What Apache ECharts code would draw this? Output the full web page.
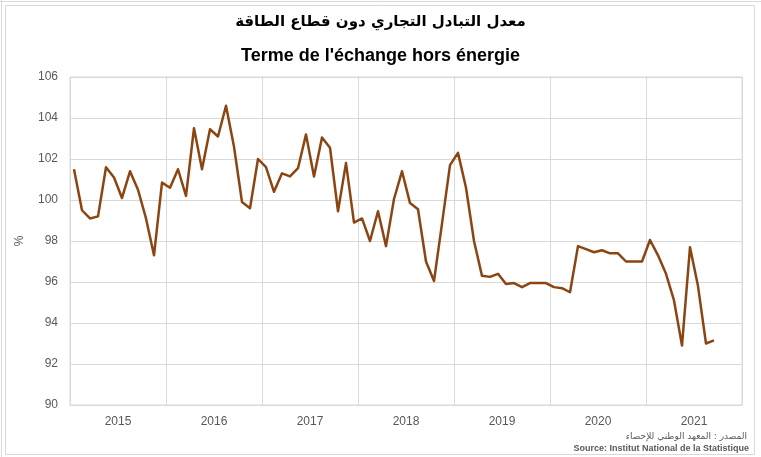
<!DOCTYPE html>
<html>
<head>
<meta charset="utf-8">
<script src="https://cdn.jsdelivr.net/npm/echarts@6/dist/echarts.min.js"></script>
<style>
html,body{margin:0;padding:0;background:#fff;}
#chart{width:761px;height:457px;}
</style>
</head>
<body>
<div id="chart"></div>
<script>
var titleAr = 'معدل التبادل التجاري دون قطاع الطاقة';
var titleFr = "Terme de l'échange hors énergie";
var sourceAr = 'المصدر : المعهد الوطني للإحصاء';
var sourceFr = 'Source: Institut National de la Statistique';
var years = ['2015', '2016', '2017', '2018', '2019', '2020', '2021'];
var monthsPerYear = ['01','02','03','04','05','06','07','08','09','10','11','12'];
var yTicks = { min: 90, max: 106, step: 2 };
var values2015 = [101.5, 99.5, 99.1, 99.2, 101.6, 101.1, 100.1, 101.4, 100.5, 99.1, 97.3, 100.85];
var values2016 = [100.6, 101.5, 100.2, 103.5, 101.5, 103.45, 103.1, 104.6, 102.6, 99.9, 99.6, 102.0];
var values2017 = [101.6, 100.4, 101.3, 101.15, 101.55, 103.2, 101.15, 103.05, 102.55, 99.45, 101.8, 98.9];
var values2018 = [99.1, 98.0, 99.45, 97.75, 100.05, 101.4, 99.85, 99.55, 97.0, 96.05, 98.85, 101.7];
var values2019 = [102.3, 100.6, 98.0, 96.3, 96.25, 96.4, 95.9, 95.95, 95.75, 95.95, 95.95, 95.95];
var values2020 = [95.75, 95.7, 95.5, 97.75, 97.6, 97.45, 97.55, 97.4, 97.4, 97.0, 97.0, 97.0];
var values2021 = [98.05, 97.3, 96.4, 95.1, 92.9, 97.7, 95.8, 93.0, 93.15];

var months = [];
years.forEach(function (y) { monthsPerYear.forEach(function (m) { months.push(y + '-' + m); }); });
var values = [].concat(values2015, values2016, values2017, values2018, values2019, values2020, values2021);

var chart = echarts.init(document.getElementById('chart'), null, { renderer: 'canvas' });
var gridColor = '#d9d9d9';
var labelColor = '#595959';
chart.setOption({
  animation: false,
  backgroundColor: '#ffffff',
  title: [
    { text: titleAr, left: 'center', top: 10,
      textStyle: { fontFamily: 'DejaVu Sans', fontWeight: 'bold', fontSize: 15, color: '#000' } },
    { text: titleFr, left: 'center', top: 42,
      textStyle: { fontFamily: 'Arial, Liberation Sans, sans-serif', fontWeight: 'bold', fontSize: 18, color: '#000' } }
  ],
  graphic: [
    { type: 'rect', shape: { x: 5.5, y: 5.5, width: 749, height: 449 }, style: { fill: 'none', stroke: gridColor, lineWidth: 1 }, silent: true },
    { type: 'line', shape: { x1: 1.5, y1: 0, x2: 1.5, y2: 457 }, style: { stroke: gridColor, lineWidth: 1 }, silent: true },
    { type: 'line', shape: { x1: 0, y1: 1.5, x2: 761, y2: 1.5 }, style: { stroke: gridColor, lineWidth: 1 }, silent: true },
    { type: 'text', right: 14, top: 432, style: { text: sourceAr, fontSize: 9, fill: labelColor, fontFamily: 'DejaVu Sans', align: 'right' } },
    { type: 'text', right: 12, top: 444, style: { text: sourceFr, fontSize: 9, fontWeight: 'bold', fill: labelColor, fontFamily: 'Arial, Liberation Sans, sans-serif', align: 'right' } }
  ],
  grid: { left: 70, right: 19, top: 77, bottom: 52, show: true, borderColor: gridColor, borderWidth: 1 },
  xAxis: [
    { type: 'category', data: months, boundaryGap: true, show: false },
    { type: 'category', data: years, boundaryGap: true, position: 'bottom',
      axisLine: { show: true, lineStyle: { color: gridColor } },
      axisTick: { show: false },
      axisLabel: { color: labelColor, fontSize: 12, margin: 11 },
      splitLine: { show: true, lineStyle: { color: gridColor, width: 1 } } }
  ],
  yAxis: {
    type: 'value', min: yTicks.min, max: yTicks.max, interval: yTicks.step,
    name: '%', nameLocation: 'middle', nameGap: 44, nameRotate: 90,
    nameTextStyle: { color: labelColor, fontSize: 12 },
    axisLine: { show: false }, axisTick: { show: false },
    axisLabel: { color: labelColor, fontSize: 12, margin: 12 },
    splitLine: { lineStyle: { color: gridColor, width: 1 } }
  },
  series: [{
    type: 'line', xAxisIndex: 0, data: values, showSymbol: false, symbol: 'none',
    lineStyle: { color: '#8B4513', width: 2.5, join: 'round' }
  }]
});
</script>
</body>
</html>
